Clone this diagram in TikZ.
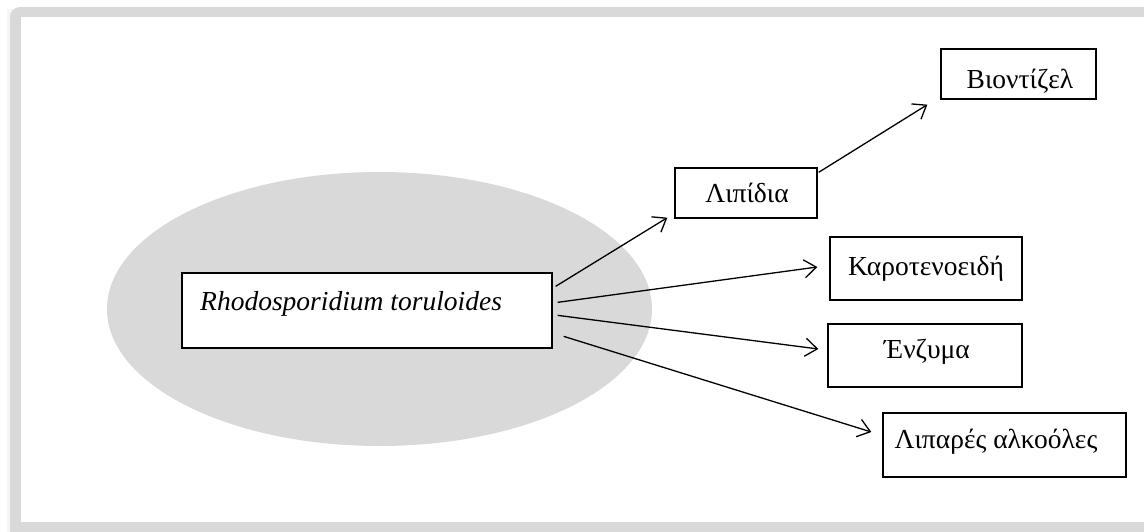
\documentclass[tikz,border=0pt]{standalone}
\usepackage{fontspec}
\setmainfont{Liberation Serif}
\usetikzlibrary{arrows.meta,calc}
\definecolor{framegray}{HTML}{D9D9D9}
\definecolor{ellgray}{HTML}{D9D9D9}
\tikzset{
  box/.style={draw=black, line width=1.3pt, fill=white, inner sep=0pt, anchor=center},
  lbl/.style={inner sep=0pt, anchor=base, font=\fontsize{27.5}{32}\selectfont},
  arr/.style={draw=black, line width=1.3pt, -{Straight Barb[length=12pt,width=18pt]}}
}
\begin{document}
\begin{tikzpicture}[x=1pt,y=-1pt]
\useasboundingbox (0,0) rectangle (1144,532);
\begin{scope}
\clip (0,0) rectangle (1144,532);
\fill[gray!8] (7,9) rectangle (1160,545);
\fill[framegray, rounded corners=10pt] (10,7) rectangle (1170,555);
\fill[white] (21,17) rectangle (1160,522);
\end{scope}
\fill[ellgray] (379.5,309) ellipse [x radius=272.5, y radius=137];
% boxes
\node[box, minimum width=370pt, minimum height=75pt] (main) at (367,310.5) {};
\node[lbl, anchor=base west, font=\fontsize{27.5}{32}\selectfont\itshape] (mainlbl) at (200,310) {Rhodosporidium toruloides};
\node[box, minimum width=155pt, minimum height=50pt] (bio) at (1018.5,74) {};
\node[lbl] (biolbl) at (1020,89) {Βιοντίζελ};
\node[box, minimum width=142pt, minimum height=50pt] (lip) at (746,193) {};
\node[lbl] (liplbl) at (747,203) {Λιπίδια};
\node[box, minimum width=192pt, minimum height=63pt] (car) at (926,268.5) {};
\node[lbl] (carlbl) at (926,275) {Καροτενοειδή};
\node[box, minimum width=194pt, minimum height=63pt] (enz) at (925,355.5) {};
\node[lbl] (enzlbl) at (927,358) {Ένζυμα};
\node[box, minimum width=243pt, minimum height=64pt] (fat) at (1004.5,445) {};
\node[lbl] (fatlbl) at (996,448) {Λιπαρές αλκοόλες};
% arrows
\draw[arr] ($(main.north east)+(3,14)$) -- ($(lip.south west)+(-7,-1)$);
\draw[arr] ($(main.north east)+(5,30)$) -- ($(car.west)+(-12,-1.5)$);
\draw[arr] ($(main.north east)+(5,43)$) -- ($(enz.west)+(-9,-6.5)$);
\draw[arr] ($(main.north east)+(11,64)$) -- ($(fat.west)+(-11,-13)$);
\draw[arr] ($(lip.north east)+(1,5)$) -- ($(bio.south west)+(-13,5)$);
\end{tikzpicture}
\end{document}
